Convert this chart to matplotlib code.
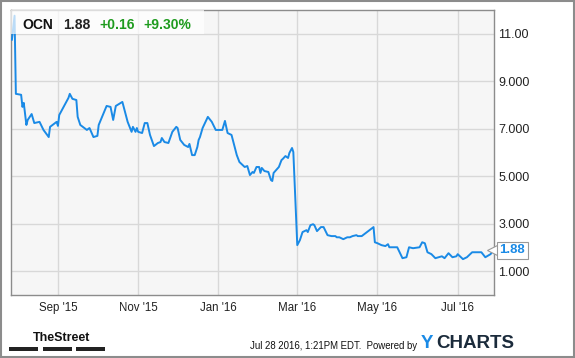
import numpy as np
import pandas as pd
import matplotlib
matplotlib.use("Agg")
import matplotlib.pyplot as plt
import matplotlib.dates as mdates
from matplotlib.patches import Rectangle

# ---- data ----
start_date = "2015-09-01"
day_offsets = [-35, -33, -32, -28, -27, -26, -24, -23, -20, -18, -14, -11, -7, -6, -1, 0, 1,
               8, 9, 11, 14, 15, 17, 22, 24, 27, 30, 31, 37, 40, 42, 44, 49, 52, 53, 56, 57,
               59, 60, 61, 64, 66, 68, 70, 73, 76, 78, 79, 81, 84, 87, 90, 91, 93, 96, 99,
               100, 102, 104, 106, 107, 108, 110, 114, 117, 120, 125, 127, 129, 132, 135,
               136, 138, 142, 144, 146, 148, 149, 151, 153, 154, 155, 157, 160, 162, 163,
               164, 168, 170, 171, 173, 175, 176, 178, 179, 182, 184, 186, 189, 190, 192,
               194, 195, 197, 200, 202, 205, 208, 211, 212, 214, 217, 220, 222, 224, 227,
               228, 231, 235, 240, 241, 243, 246, 249, 251, 252, 256, 258, 262, 265, 267,
               270, 275, 277, 279, 281, 284, 287, 292, 294, 297, 300, 303, 304, 308, 311,
               315, 319, 322, 325, 329, 331]
prices = [10.75, 11.76, 8.47, 8.43, 7.92, 8.09, 7.16, 7.37, 7.62, 7.24, 7.29, 6.95, 6.65, 7.08,
          7.29, 7.12, 7.58, 8.30, 8.47, 8.26, 8.21, 7.50, 7.16, 6.95, 7.03, 6.65, 6.70, 7.16,
          7.96, 7.92, 7.37, 7.96, 8.13, 7.50, 7.29, 6.87, 7.08, 6.87, 7.03, 6.87, 6.82, 7.24,
          7.24, 6.74, 6.27, 6.40, 6.44, 6.61, 6.44, 6.40, 6.87, 7.08, 7.03, 6.53, 6.32, 6.23,
          6.36, 5.89, 5.89, 6.23, 6.53, 6.65, 7.03, 7.50, 7.29, 6.95, 6.95, 7.33, 6.82, 6.74,
          6.10, 5.89, 5.60, 5.39, 5.43, 5.05, 5.18, 5.14, 5.39, 5.39, 5.14, 5.35, 5.22, 5.18,
          4.84, 4.80, 5.14, 5.39, 5.68, 5.73, 5.85, 5.77, 5.98, 6.19, 6.02, 2.10, 2.31, 2.65,
          2.73, 2.65, 2.94, 2.98, 2.94, 2.69, 2.86, 2.86, 2.52, 2.48, 2.48, 2.43, 2.43, 2.35,
          2.43, 2.43, 2.48, 2.52, 2.48, 2.48, 2.65, 2.86, 2.22, 2.18, 2.10, 2.06, 2.14, 2.01,
          2.01, 2.01, 1.55, 1.59, 2.01, 1.97, 2.01, 2.22, 2.18, 1.80, 1.72, 1.55, 1.63, 1.55,
          1.76, 1.59, 1.63, 1.72, 1.51, 1.59, 1.80, 1.80, 1.80, 1.59, 1.72, 1.88]
ytick_values = [1, 3, 5, 7, 9, 11]
ytick_labels = ["1.000", "3.000", "5.000", "7.000", "9.000", "11.00"]
xtick_dates = ["2015-09-01", "2015-11-01", "2016-01-01", "2016-03-01", "2016-05-01", "2016-07-01"]
xtick_labels = ["Sep '15", "Nov '15", "Jan '16", "Mar '16", "May '16", "Jul '16"]
ticker = "OCN"
last_price = "1.88"
change = "+0.16"
change_pct = "+9.30%"
timestamp = "Jul 28 2016, 1:21PM EDT.  Powered by"

plt.rcParams['font.family'] = ['Liberation Sans', 'DejaVu Sans']

W, H = 575, 358
fig = plt.figure(figsize=(W / 100, H / 100), dpi=100)
fig.patch.set_facecolor("white")

def fx(x):
    return x / W

def fy(y):
    return 1 - y / H

ax = fig.add_axes([fx(11), fy(295), fx(494) - fx(11), fy(10) - fy(295)])
ax.set_facecolor("#f6f6f6")

base = np.datetime64(start_date)
dates = base + np.array(day_offsets).astype("timedelta64[D]")
ax.plot(dates, prices, color="#1a8ae6", lw=1.4, solid_joinstyle="round", zorder=3)

x0 = mdates.date2num(base) - 35.7
x1 = mdates.date2num(base) + 331.6
ax.set_xlim(x0, x1)
ax.set_ylim(0, 12)

ax.set_xticks([mdates.date2num(np.datetime64(d)) for d in xtick_dates])
ax.set_xticklabels(xtick_labels)
ax.set_yticks(ytick_values)
ax.set_yticklabels(ytick_labels)
ax.yaxis.tick_right()
ax.tick_params(axis="both", length=0, colors="#222222")
ax.tick_params(axis="x", pad=5, labelsize=8.3)
ax.tick_params(axis="y", pad=3, labelsize=9)
ax.grid(True, color="#d8d8d8", lw=1.0, zorder=0)
ax.set_axisbelow(True)
for s in ax.spines.values():
    s.set_color("#8c8c8c")
    s.set_linewidth(1.0)

# last value callout
last_x = mdates.date2num(dates[-1])
ax.plot([last_x], [prices[-1]], marker="<", markersize=8, mfc="white", mec="#999999",
        mew=0.8, clip_on=False, zorder=5, transform=ax.transData)
ax.annotate(last_price, xy=(last_x, prices[-1]), xytext=(4.5, 0), textcoords="offset points",
            ha="left", va="center", fontsize=9.5, fontweight="bold", color="#1a8ae6",
            bbox=dict(boxstyle="square,pad=0.2", fc="white", ec="#999999", lw=0.8),
            annotation_clip=False, zorder=6)

# header box
fig.patches.append(Rectangle((fx(11), fy(34)), fx(204) - fx(11), fy(10) - fy(34),
                             transform=fig.transFigure, fc="white", ec="none", alpha=0.7,
                             zorder=4))
hy = fy(29)
fig.text(fx(22), hy, ticker, fontsize=10, fontweight="bold", color="#111111", va="baseline", zorder=5)
fig.text(fx(63), hy, last_price, fontsize=10, fontweight="bold", color="#222222", va="baseline", zorder=5)
fig.text(fx(99), hy, change, fontsize=10, fontweight="bold", color="#1e9b1e", va="baseline", zorder=5)
fig.text(fx(143), hy, change_pct, fontsize=10, fontweight="bold", color="#1e9b1e", va="baseline", zorder=5)

# footer
fig.text(fx(33), fy(341), "TheStreet", fontsize=9, fontweight="bold", color="#111111",
         va="baseline")
for a, b in [(9, 38), (43, 72), (76, 105)]:
    fig.patches.append(Rectangle((fx(a), fy(351)), fx(b) - fx(a), fy(347) - fy(351),
                                 transform=fig.transFigure, fc="#222222", ec="none"))
fig.text(fx(250), fy(349), timestamp, fontsize=6.9, color="#111111", va="baseline")
fig.text(fx(421), fy(348), "Y", fontsize=13.5, fontweight="bold", color="#1a8ae6", va="baseline")
fig.text(fx(436), fy(348), "CHARTS", fontsize=13.5, fontweight="bold", color="#1b2b3b", va="baseline")

# outer frame
fig.patches.append(Rectangle((0.0015, 0.002), 0.997, 0.995, transform=fig.transFigure,
                             fc="none", ec="#8c8c8c", lw=1.5))

fig.savefig("out.png", dpi=100, facecolor="white")
